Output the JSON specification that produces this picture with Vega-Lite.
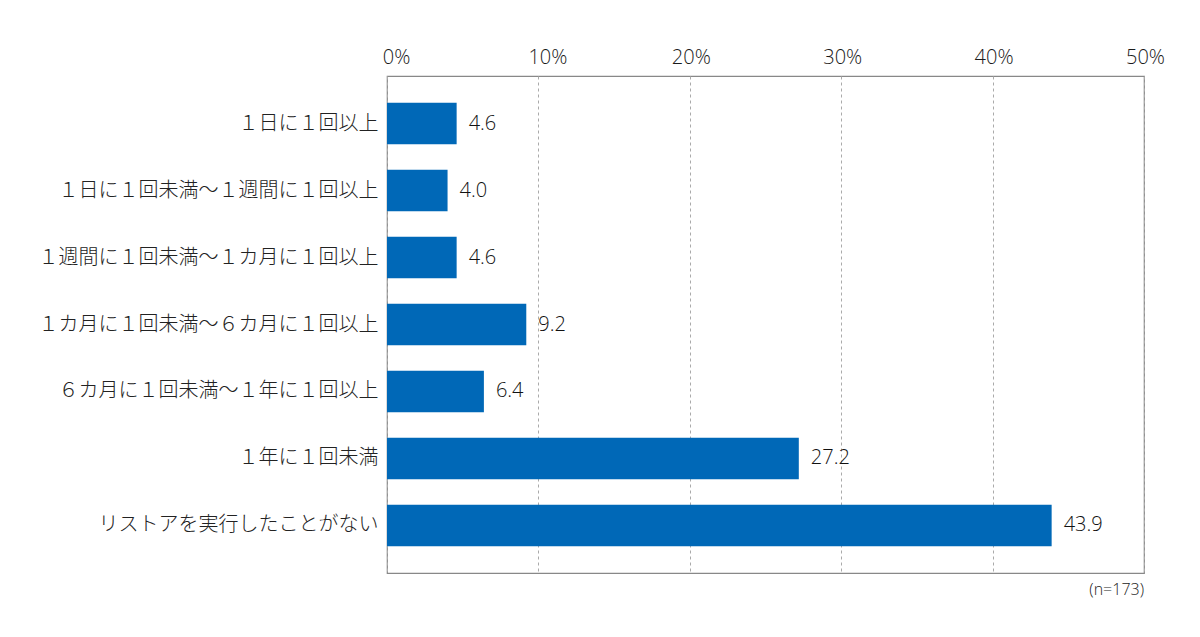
{
  "$schema": "https://vega.github.io/schema/vega-lite/v6.json",
  "autosize": {"type": "none"},
  "padding": {"left": 387, "top": 76, "right": 56, "bottom": 64},
  "width": 757,
  "height": 497,
  "background": "white",
  "data": {
    "values": [
      {"label": "１日に１回以上", "pct": 4.6},
      {"label": "１日に１回未満〜１週間に１回以上", "pct": 4.0},
      {"label": "１週間に１回未満〜１カ月に１回以上", "pct": 4.6},
      {"label": "１カ月に１回未満〜６カ月に１回以上", "pct": 9.2},
      {"label": "６カ月に１回未満〜１年に１回以上", "pct": 6.4},
      {"label": "１年に１回未満", "pct": 27.2},
      {"label": "リストアを実行したことがない", "pct": 43.9}
    ]
  },
  "encoding": {
    "y": {
      "field": "label",
      "type": "nominal",
      "sort": null,
      "title": null,
      "scale": {"paddingInner": 0.38, "paddingOuter": 0.4},
      "axis": {
        "domain": false,
        "ticks": false,
        "labelPadding": 9,
        "labelFontSize": 20,
        "labelFontWeight": 300,
        "labelColor": "#222222",
        "labelFont": "Noto Sans CJK JP",
        "labelLimit": 400
      }
    },
    "x": {
      "field": "pct",
      "type": "quantitative",
      "title": null,
      "scale": {"domain": [0, 50], "nice": false},
      "axis": {
        "orient": "top",
        "values": [0, 10, 20, 30, 40, 50],
        "labelExpr": "datum.value + '%'",
        "domain": false,
        "ticks": false,
        "labelFlush": false,
        "labelPadding": 9,
        "labelOffset": {"condition": {"test": "datum.value <= 10", "value": 9}, "value": 1},
        "labelFontSize": 20,
        "labelFontWeight": 300,
        "labelColor": "#1a1a1a",
        "labelFont": "Open Sans",
        "gridColor": "#aaaaaa",
        "gridDash": [3, 3],
        "gridWidth": 1
      }
    }
  },
  "layer": [
    {"mark": {"type": "bar", "color": "#0068b7"}},
    {
      "mark": {
        "type": "text",
        "align": "left",
        "baseline": "middle",
        "dx": 12,
        "fontSize": 20,
        "fontWeight": 300,
        "font": "Open Sans",
        "color": "#111111"
      },
      "encoding": {"text": {"field": "pct", "type": "quantitative", "format": ".1f"}}
    },
    {
      "data": {"values": [{"note": "(n=173)", "x": 50}]},
      "mark": {
        "type": "text",
        "align": "right",
        "baseline": "middle",
        "fontSize": 16,
        "fontWeight": 300,
        "font": "Open Sans",
        "color": "#1a1a1a",
        "y": {"expr": "height + 17"}
      },
      "encoding": {
        "x": {"field": "x", "type": "quantitative"},
        "y": null,
        "text": {"field": "note"}
      }
    }
  ],
  "config": {
    "view": {"stroke": "#888888", "strokeWidth": 1.2}
  }
}
